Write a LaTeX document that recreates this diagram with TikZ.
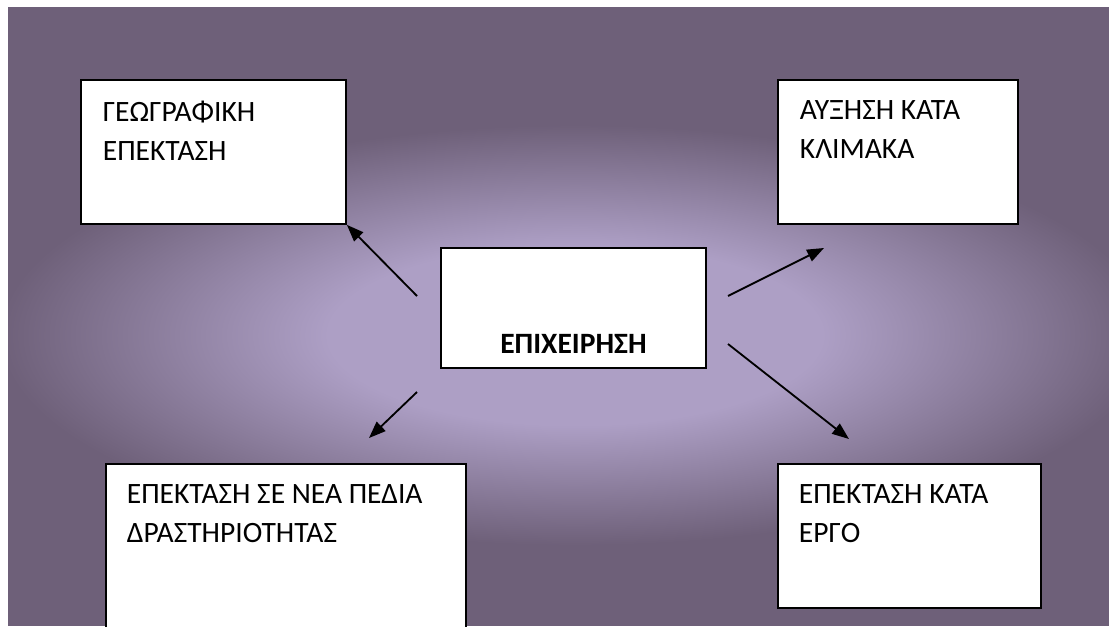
\documentclass[tikz,border=0pt]{standalone}
\usepackage{fontspec}
\setmainfont{Carlito}
\usetikzlibrary{arrows.meta}

\definecolor{bglight}{HTML}{AD9FC5}
\definecolor{bgdark}{HTML}{6E6079}
\pgfdeclareradialshading{bgglow}{\pgfpoint{0bp}{0bp}}{color(0bp)=(bglight); color(9bp)=(bglight); color(21bp)=(bgdark); color(25bp)=(bgdark)}

\newcommand{\boxfont}{\fontsize{21}{27.7}\selectfont}

\tikzset{
  box/.style={draw=black, line width=1.3pt, fill=white, anchor=north west, inner xsep=0.55cm, inner ysep=0.525cm, font=\boxfont},
  link/.style={-{Triangle[length=12pt,width=9pt]}, line width=1.3pt},
}

\begin{document}
\begin{tikzpicture}[x=0.025cm, y=-0.025cm]
  \useasboundingbox (0,0) rectangle (1109,626);

  % background with the light glow in the middle
  \fill[bgdark] (8,7) rectangle (1109,626);
  \begin{scope}
    \clip (8,7) rectangle (1109,626);
    \shade[shading=bgglow] (-110,85) rectangle (1260,585);
  \end{scope}

  % the boxes
  \node[box] (geo) at (80,79) {\parbox[c][2.55cm][t]{5.525cm}{ΓΕΩΓΡΑΦΙΚΗ\\ΕΠΕΚΤΑΣΗ}};
  \node[box] (scale) at (777,79) {\parbox[c][2.55cm][t]{4.9cm}{ΑΥΞΗΣΗ ΚΑΤΑ\\ΚΛΙΜΑΚΑ}};
  \node[box, inner ysep=0.35cm] (firm) at (440,247) {\parbox[c][2.3cm][b]{5.525cm}{\centering\bfseries ΕΠΙΧΕΙΡΗΣΗ}};
  \node[box, inner xsep=0.525cm] (field) at (105,463) {\parbox[c][3.45cm][t]{7.95cm}{ΕΠΕΚΤΑΣΗ ΣΕ ΝΕΑ ΠΕΔΙΑ\\ΔΡΑΣΤΗΡΙΟΤΗΤΑΣ}};
  \node[box, inner xsep=0.525cm] (work) at (777,463) {\parbox[c][2.55cm][t]{5.525cm}{ΕΠΕΚΤΑΣΗ ΚΑΤΑ\\ΕΡΓΟ}};

  % arrows out of the middle
  \coordinate (g1) at (417,296);
  \coordinate (s1) at (728,296);
  \coordinate (s2) at (824,248);
  \coordinate (f1) at (417,392);
  \coordinate (f2) at (369,438);
  \coordinate (w1) at (728,344);
  \coordinate (w2) at (849,439);
  \draw[link] (g1) -- (geo.south east);
  \draw[link] (s1) -- (s2);
  \draw[link] (f1) -- (f2);
  \draw[link] (w1) -- (w2);
\end{tikzpicture}
\end{document}
